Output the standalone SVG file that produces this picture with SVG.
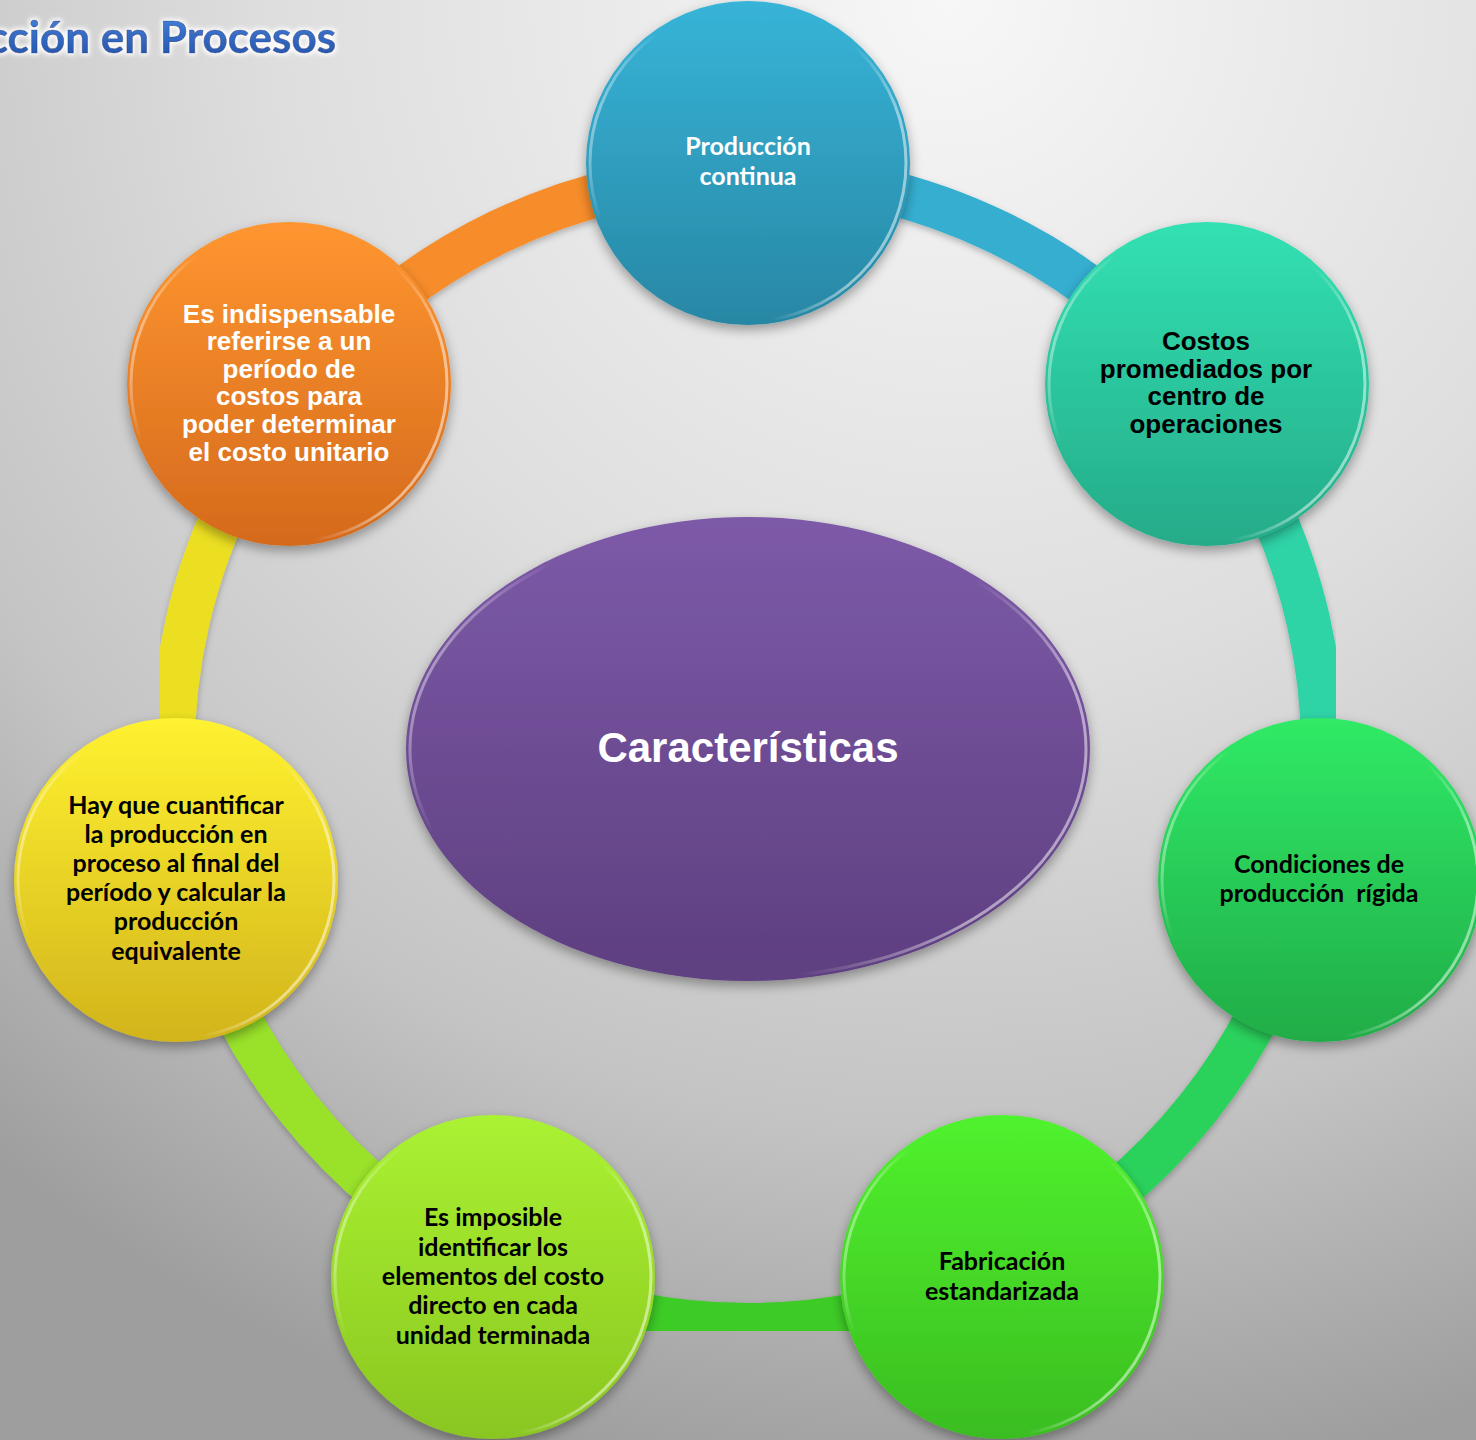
<svg xmlns="http://www.w3.org/2000/svg" width="1476" height="1440" viewBox="0 0 1476 1440">
<defs>
<radialGradient id="bg" gradientUnits="userSpaceOnUse" cx="950" cy="0" r="1500">
<stop offset="0" stop-color="#f7f7f7"/><stop offset="0.45" stop-color="#dedede"/><stop offset="0.75" stop-color="#c4c4c4"/><stop offset="1" stop-color="#9e9e9e"/>
</radialGradient>
<linearGradient id="gBlue" x1="0" y1="0" x2="0" y2="1"><stop offset="0" stop-color="#37b4d8"/><stop offset="1" stop-color="#2887a4"/></linearGradient>
<linearGradient id="gTeal" x1="0" y1="0" x2="0" y2="1"><stop offset="0" stop-color="#32e1b2"/><stop offset="1" stop-color="#25ab88"/></linearGradient>
<linearGradient id="gGreen" x1="0" y1="0" x2="0" y2="1"><stop offset="0" stop-color="#30ea66"/><stop offset="1" stop-color="#20ac48"/></linearGradient>
<linearGradient id="gBright" x1="0" y1="0" x2="0" y2="1"><stop offset="0" stop-color="#50f22e"/><stop offset="1" stop-color="#3abd20"/></linearGradient>
<linearGradient id="gLime" x1="0" y1="0" x2="0" y2="1"><stop offset="0" stop-color="#aaf232"/><stop offset="1" stop-color="#8ac620"/></linearGradient>
<linearGradient id="gYellow" x1="0" y1="0" x2="0" y2="1"><stop offset="0" stop-color="#fff230"/><stop offset="1" stop-color="#d2b41c"/></linearGradient>
<linearGradient id="gOrange" x1="0" y1="0" x2="0" y2="1"><stop offset="0" stop-color="#ff9630"/><stop offset="1" stop-color="#d46a1c"/></linearGradient>
<linearGradient id="gPurple" x1="0" y1="0" x2="0" y2="1"><stop offset="0" stop-color="#7d5aa8"/><stop offset="1" stop-color="#5e3f80"/></linearGradient>
<linearGradient id="rim" x1="0" y1="0" x2="1" y2="0.3">
<stop offset="0" stop-color="#ffffff" stop-opacity="0.85"/><stop offset="0.22" stop-color="#ffffff" stop-opacity="0"/><stop offset="0.8" stop-color="#ffffff" stop-opacity="0"/><stop offset="1" stop-color="#ffffff" stop-opacity="0.5"/>
</linearGradient>
<linearGradient id="title" x1="0" y1="0" x2="0" y2="1"><stop offset="0" stop-color="#4a86e0"/><stop offset="1" stop-color="#1f4fa6"/></linearGradient>
<filter id="shadow" x="-20%" y="-20%" width="140%" height="150%">
<feDropShadow dx="0" dy="5" stdDeviation="6" flood-color="#000" flood-opacity="0.35"/>
</filter>
<filter id="rshadow" x="-10%" y="-10%" width="120%" height="120%">
<feDropShadow dx="0" dy="3" stdDeviation="3" flood-color="#000" flood-opacity="0.25"/>
</filter>
<filter id="glow" x="-10%" y="-30%" width="120%" height="160%">
<feMorphology in="SourceAlpha" operator="dilate" radius="2" result="d"/>
<feGaussianBlur in="d" stdDeviation="2" result="b"/>
<feFlood flood-color="#ffffff" flood-opacity="0.9"/>
<feComposite in2="b" operator="in" result="w"/>
<feMerge><feMergeNode in="w"/><feMergeNode in="SourceGraphic"/></feMerge>
</filter>
</defs>
<style>
.ring{fill:none;stroke-width:44;filter:url(#rshadow)}
.node{filter:url(#shadow)}
.rim{fill:none;stroke:url(#rim);stroke-width:3}
.ar{font-family:"Liberation Sans",Arial,sans-serif;font-weight:bold;font-size:26px;text-anchor:middle}
.ca{font-family:Lato,"Open Sans",sans-serif;font-weight:bold;font-size:25px;text-anchor:middle}
.w{fill:#ffffff}
.k{fill:#000000}
</style>
<rect x="0" y="0" width="1476" height="1440" fill="url(#bg)"/>
<text x="336" y="53" font-family="Lato,'Open Sans',sans-serif" font-weight="bold" font-size="44" text-anchor="end" fill="url(#title)" stroke="#1d4690" stroke-width="0.6" filter="url(#glow)">cción en Procesos</text>

<g id="connectors">
<path class="ring" stroke="#36aed0" d="M748,175 A575,575 0 0 1 1197.55,391.49"/>
<path class="ring" stroke="#2ed3a6" d="M1197.55,391.49 A575,575 0 0 1 1308.58,877.95"/>
<path class="ring" stroke="#2bd25c" d="M1308.58,877.95 A575,575 0 0 1 997.48,1268.06"/>
<path class="ring" stroke="#3ccc28" d="M997.48,1268.06 A575,575 0 0 1 498.52,1268.06"/>
<path class="ring" stroke="#9ae22a" d="M498.52,1268.06 A575,575 0 0 1 187.42,877.95"/>
<path class="ring" stroke="#ecdf24" d="M187.42,877.95 A575,575 0 0 1 298.45,391.49"/>
<path class="ring" stroke="#f78d2c" d="M298.45,391.49 A575,575 0 0 1 748,175"/>
</g>

<g id="center">
<ellipse class="node" cx="748" cy="749" rx="342" ry="232" fill="url(#gPurple)"/>
<ellipse class="rim" cx="748" cy="749" rx="338" ry="228"/>
<text x="748" y="762" font-family="'Liberation Sans',Arial,sans-serif" font-weight="bold" font-size="42" text-anchor="middle" fill="#ffffff">Características</text>
</g>

<g id="n-top">
<circle class="node" cx="748" cy="163" r="162" fill="url(#gBlue)"/>
<circle class="rim" cx="748" cy="163" r="158"/>
<text class="ca w" x="748" y="155">Producción</text>
<text class="ca w" x="748" y="185">continua</text>
</g>

<g id="n-topright">
<circle class="node" cx="1207" cy="384" r="162" fill="url(#gTeal)"/>
<circle class="rim" cx="1207" cy="384" r="158"/>
<text class="ar k" x="1206" y="350">Costos</text>
<text class="ar k" x="1206" y="378">promediados por</text>
<text class="ar k" x="1206" y="405">centro de</text>
<text class="ar k" x="1206" y="433">operaciones</text>
</g>

<g id="n-right">
<circle class="node" cx="1320" cy="880" r="162" fill="url(#gGreen)"/>
<circle class="rim" cx="1320" cy="880" r="158"/>
<text class="ca k" x="1319" y="873">Condiciones de</text>
<text class="ca k" x="1319" y="902" style="white-space:pre">producción  rígida</text>
</g>

<g id="n-bottomright">
<circle class="node" cx="1002" cy="1277" r="162" fill="url(#gBright)"/>
<circle class="rim" cx="1002" cy="1277" r="158"/>
<text class="ca k" x="1002" y="1270">Fabricación</text>
<text class="ca k" x="1002" y="1300">estandarizada</text>
</g>

<g id="n-bottomleft">
<circle class="node" cx="493" cy="1277" r="162" fill="url(#gLime)"/>
<circle class="rim" cx="493" cy="1277" r="158"/>
<text class="ca k" x="493" y="1226">Es imposible</text>
<text class="ca k" x="493" y="1256">identificar los</text>
<text class="ca k" x="493" y="1285">elementos del costo</text>
<text class="ca k" x="493" y="1314">directo en cada</text>
<text class="ca k" x="493" y="1344">unidad terminada</text>
</g>

<g id="n-left">
<circle class="node" cx="176" cy="880" r="162" fill="url(#gYellow)"/>
<circle class="rim" cx="176" cy="880" r="158"/>
<text class="ca k" x="176" y="814">Hay que cuantificar</text>
<text class="ca k" x="176" y="843">la producción en</text>
<text class="ca k" x="176" y="872">proceso al final del</text>
<text class="ca k" x="176" y="901">período y calcular la</text>
<text class="ca k" x="176" y="930">producción</text>
<text class="ca k" x="176" y="960">equivalente</text>
</g>

<g id="n-topleft">
<circle class="node" cx="289" cy="384" r="162" fill="url(#gOrange)"/>
<circle class="rim" cx="289" cy="384" r="158"/>
<text class="ar w" x="289" y="323">Es indispensable</text>
<text class="ar w" x="289" y="350">referirse a un</text>
<text class="ar w" x="289" y="378">período de</text>
<text class="ar w" x="289" y="405">costos para</text>
<text class="ar w" x="289" y="433">poder determinar</text>
<text class="ar w" x="289" y="461">el costo unitario</text>
</g>
</svg>
